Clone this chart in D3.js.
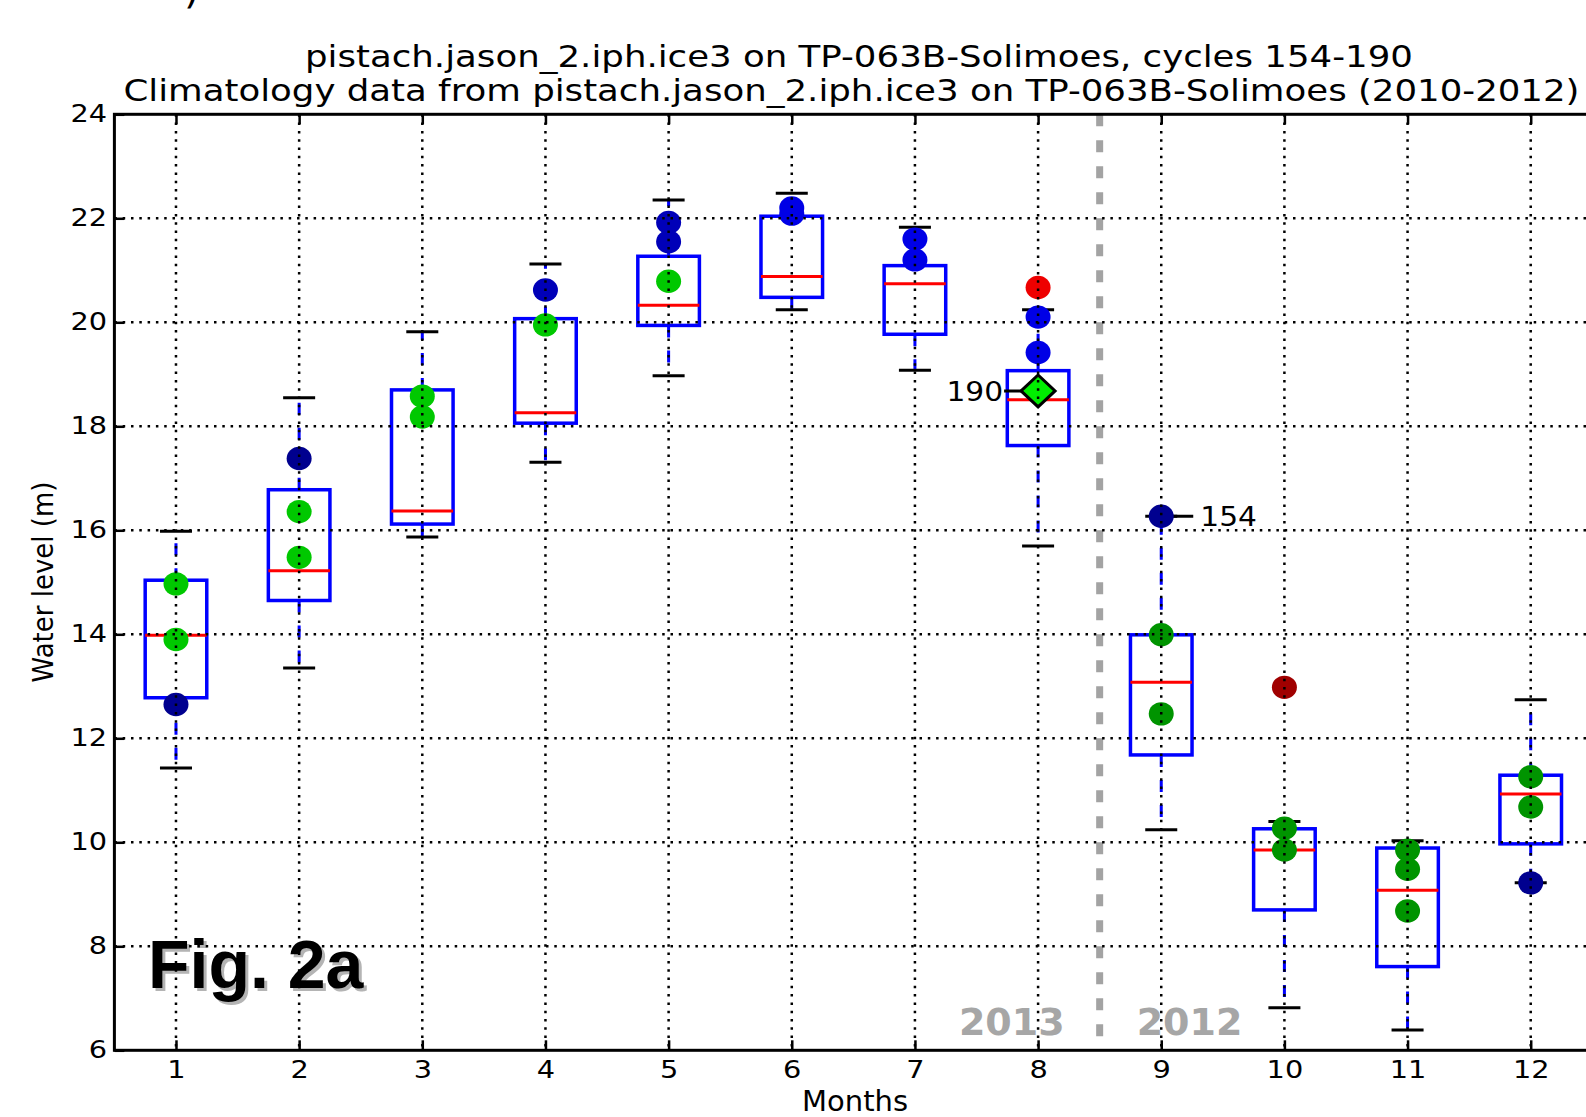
<!DOCTYPE html>
<html><head><meta charset="utf-8">
<script src="https://cdn.jsdelivr.net/npm/d3@7"></script>
<style>body{margin:0;background:#fff;overflow:hidden;} svg{display:block;}</style>
</head><body>
<svg id="chart" width="1586" height="1117"></svg>
<script>
// ---- data ----
const months = [1,2,3,4,5,6,7,8,9,10,11,12];
const whiskerLow  = [11.43,13.35,15.87,17.31,18.97,20.24,19.08,15.70,10.24,6.82,6.39,9.22];
const boxQ1       = [12.78,14.65,16.12,18.06,19.94,20.48,19.77,17.63,11.68,8.70,7.61,9.97];
const boxMedian   = [13.98,15.22,16.37,18.26,20.33,20.88,20.74,18.51,13.08,9.85,9.08,10.93];
const boxQ3       = [15.04,16.78,18.70,20.07,21.27,22.04,21.09,19.07,13.99,10.26,9.89,11.29];
const whiskerHigh = [15.98,18.55,19.82,21.12,22.35,22.48,21.83,20.24,16.27,10.40,10.03,12.74];

// points as [month, value]
const pointsNavy      = [[1,12.65],[2,17.38],[9,16.27],[12,9.22]];
const pointsMidBlue   = [[4,20.62],[5,21.92],[5,21.55]];
const pointsBlue      = [[6,22.20],[6,22.08],[7,21.60],[7,21.20],[8,20.10],[8,19.42]];
const pointsLightGreen= [[1,14.97],[1,13.90],[2,16.36],[2,15.48],[3,18.58],[3,18.18],[4,19.95],[5,20.79]];
const pointsDarkGreen = [[9,13.99],[9,12.47],[10,10.27],[10,9.85],[11,9.85],[11,9.48],[11,8.68],[12,11.26],[12,10.68]];
const pointsRed       = [[8,20.67]];
const pointsDarkRed   = [[10,12.98]];
const currentPoint    = [[8,18.68]];
const annotations     = [{label:"190", month:8, value:18.68, side:"left"},{label:"154", month:9, value:16.27, side:"right"}];

const yTicks = [6,8,10,12,14,16,18,20,22,24];
const xTicks = months;
const yearSplit = 8.5;
const yearLabels = [{text:"2013", side:"left"},{text:"2012", side:"right"}];
const titleLines = ["pistach.jason_2.iph.ice3 on TP-063B-Solimoes, cycles 154-190",
                    "Climatology data from pistach.jason_2.iph.ice3 on TP-063B-Solimoes (2010-2012)"];

// ---- layout ----
const svg = d3.select("#chart");
const L = 114.4, R = 1592.3, T = 114.3, B = 1050.3;
const x = d3.scaleLinear().domain([0.5,12.5]).range([L,R]);
const y = d3.scaleLinear().domain([6,24]).range([B,T]);
const unit = x(1)-x(0);
const boxW = 0.5*unit, capW = 0.26*unit;
const font = "DejaVu Sans, sans-serif";

svg.append("rect").attr("width",1586).attr("height",1117).attr("fill","#fff");

// cut-off fragment at top (as in reference)
svg.append("text").attr("x",184).attr("y",3).attr("font-family",font).attr("font-size",40).text(")");

// titles
const titleGeom = [{cx:859, w:1108, y:67},{cx:851.5, w:1456, y:100.5}];
svg.selectAll("text.title").data(titleLines).enter().append("text")
  .attr("class","title").attr("x",(d,i)=>titleGeom[i].cx).attr("y",(d,i)=>titleGeom[i].y)
  .attr("text-anchor","middle").attr("font-family",font).attr("font-size",30)
  .attr("textLength",(d,i)=>titleGeom[i].w).attr("lengthAdjust","spacingAndGlyphs")
  .attr("fill","#000").text(d=>d);

const plot = svg.append("g");

// year split line
plot.append("line").attr("x1",x(yearSplit)).attr("x2",x(yearSplit)).attr("y1",T).attr("y2",B)
  .attr("stroke","#a3a3a3").attr("stroke-width",7).attr("stroke-dasharray","12,14");

// year labels
plot.selectAll("text.year").data(yearLabels).enter().append("text")
  .attr("x",d=>d.side==="left"? x(yearSplit)-35 : x(yearSplit)+37)
  .attr("y",1035).attr("text-anchor",d=>d.side==="left"?"end":"start")
  .attr("font-family","DejaVu Sans, sans-serif").attr("font-weight","bold").attr("font-size",38)
  .attr("fill","#a6a6a6").text(d=>d.text);

// Fig. 2a
const figG = svg.append("g");
figG.append("text").attr("x",151).attr("y",991).attr("font-family","Liberation Sans, Arial, sans-serif")
  .attr("font-weight","bold").attr("font-size",68).attr("fill","#b4b4b4").text("Fig. 2a");
figG.append("text").attr("x",148).attr("y",988).attr("font-family","Liberation Sans, Arial, sans-serif")
  .attr("font-weight","bold").attr("font-size",68).attr("fill","#000").text("Fig. 2a");

// whiskers
const idx = d3.range(months.length);
plot.selectAll("line.wu").data(idx).enter().append("line")
  .attr("x1",i=>x(months[i])).attr("x2",i=>x(months[i]))
  .attr("y1",i=>y(boxQ3[i])).attr("y2",i=>y(whiskerHigh[i]))
  .attr("stroke","#0000ff").attr("stroke-width",3).attr("stroke-dasharray","12,13");
plot.selectAll("line.wl").data(idx).enter().append("line")
  .attr("x1",i=>x(months[i])).attr("x2",i=>x(months[i]))
  .attr("y1",i=>y(boxQ1[i])).attr("y2",i=>y(whiskerLow[i]))
  .attr("stroke","#0000ff").attr("stroke-width",3).attr("stroke-dasharray","12,13");
// caps
[whiskerHigh, whiskerLow].forEach(arr=>{
  plot.selectAll(null).data(idx).enter().append("line")
    .attr("x1",i=>x(months[i])-capW/2).attr("x2",i=>x(months[i])+capW/2)
    .attr("y1",i=>y(arr[i])).attr("y2",i=>y(arr[i]))
    .attr("stroke","#000").attr("stroke-width",3);
});
// boxes
plot.selectAll("rect.box").data(idx).enter().append("rect")
  .attr("x",i=>x(months[i])-boxW/2).attr("width",boxW)
  .attr("y",i=>y(boxQ3[i])).attr("height",i=>y(boxQ1[i])-y(boxQ3[i]))
  .attr("fill","none").attr("stroke","#0000ff").attr("stroke-width",3.5);
// medians
plot.selectAll("line.med").data(idx).enter().append("line")
  .attr("x1",i=>x(months[i])-boxW/2).attr("x2",i=>x(months[i])+boxW/2)
  .attr("y1",i=>y(boxMedian[i])).attr("y2",i=>y(boxMedian[i]))
  .attr("stroke","#ff0000").attr("stroke-width",3);

// annotation lines
annotations.forEach(a=>{
  const px = x(a.month), py = y(a.value);
  if(a.side==="left"){
    plot.append("line").attr("x1",px-34).attr("x2",px).attr("y1",py).attr("y2",py).attr("stroke","#000").attr("stroke-width",3);
  } else {
    plot.append("line").attr("x1",px).attr("x2",px+32).attr("y1",py).attr("y2",py).attr("stroke","#000").attr("stroke-width",3);
  }
});

// points
function dots(data,color){
  plot.selectAll(null).data(data).enter().append("ellipse")
    .attr("cx",d=>x(d[0])).attr("cy",d=>y(d[1])).attr("rx",12.5).attr("ry",11.7).attr("fill",color);
}
dots(pointsNavy,"#00008f");
dots(pointsMidBlue,"#0000b8");
dots(pointsBlue,"#0000e6");
dots(pointsLightGreen,"#00c800");
dots(pointsDarkGreen,"#009400");
dots(pointsRed,"#ee0000");
dots(pointsDarkRed,"#a00000");

// current diamond
plot.selectAll(null).data(currentPoint).enter().append("path")
  .attr("d",d=>{const cx=x(d[0]), cy=y(d[1]); return `M${cx-17},${cy}L${cx},${cy-16}L${cx+17},${cy}L${cx},${cy+16}Z`;})
  .attr("fill","#00ee00").attr("stroke","#000").attr("stroke-width",3);

// annotation labels
plot.selectAll("g.ann").data(annotations).enter().append("g")
  .attr("transform",a=>`translate(${a.side==="left"? x(a.month)-35 : x(a.month)+39},${y(a.value)+10}) scale(1.1,1)`)
  .append("text").attr("text-anchor",a=>a.side==="left"?"end":"start")
  .attr("font-family",font).attr("font-size",27).attr("fill","#000").text(a=>a.label);

// grid (on top, like the reference)
const grid = svg.append("g");
grid.selectAll(null).data(xTicks).enter().append("line")
  .attr("x1",d=>x(d)).attr("x2",d=>x(d)).attr("y1",T).attr("y2",B)
  .attr("stroke","#000").attr("stroke-width",2.5).attr("stroke-dasharray","2.5,5.8");
grid.selectAll(null).data(yTicks.filter(v=>v>6&&v<24)).enter().append("line")
  .attr("x1",L).attr("x2",R).attr("y1",d=>y(d)).attr("y2",d=>y(d))
  .attr("stroke","#000").attr("stroke-width",2.5).attr("stroke-dasharray","2.5,5.8");

// axes
const axL = svg.append("g").attr("transform",`translate(${L},0)`)
  .call(d3.axisLeft(y).tickValues(yTicks).tickSizeInner(-10).tickSizeOuter(0).tickPadding(6).tickFormat(d3.format("d")));
const axB = svg.append("g").attr("transform",`translate(0,${B})`)
  .call(d3.axisBottom(x).tickValues(xTicks).tickSizeInner(-10).tickSizeOuter(0).tickPadding(11).tickFormat(d3.format("d")));
const axT = svg.append("g").attr("transform",`translate(0,${T})`)
  .call(d3.axisTop(x).tickValues(xTicks).tickSizeInner(-10).tickSizeOuter(0).tickFormat(""));
[axL,axB,axT].forEach(a=>{
  a.select(".domain").remove();
  a.selectAll(".tick line").attr("stroke","#000").attr("stroke-width",2.5);
  a.selectAll(".tick text").attr("font-family",font).attr("font-size",24).attr("fill","#000")
    .attr("transform","scale(1.2,1)");
});

// frame
svg.append("rect").attr("x",L).attr("y",T).attr("width",R-L).attr("height",B-T)
  .attr("fill","none").attr("stroke","#000").attr("stroke-width",3);

// axis labels
svg.append("text").attr("x",855).attr("y",1111).attr("text-anchor","middle")
  .attr("font-family",font).attr("font-size",28).attr("textLength",106).attr("lengthAdjust","spacingAndGlyphs")
  .attr("fill","#000").text("Months");
svg.append("text").attr("transform","translate(53,582) rotate(-90) scale(1,1.1)").attr("text-anchor","middle")
  .attr("font-family",font).attr("font-size",26).attr("fill","#000").text("Water level (m)");
</script>
</body></html>
